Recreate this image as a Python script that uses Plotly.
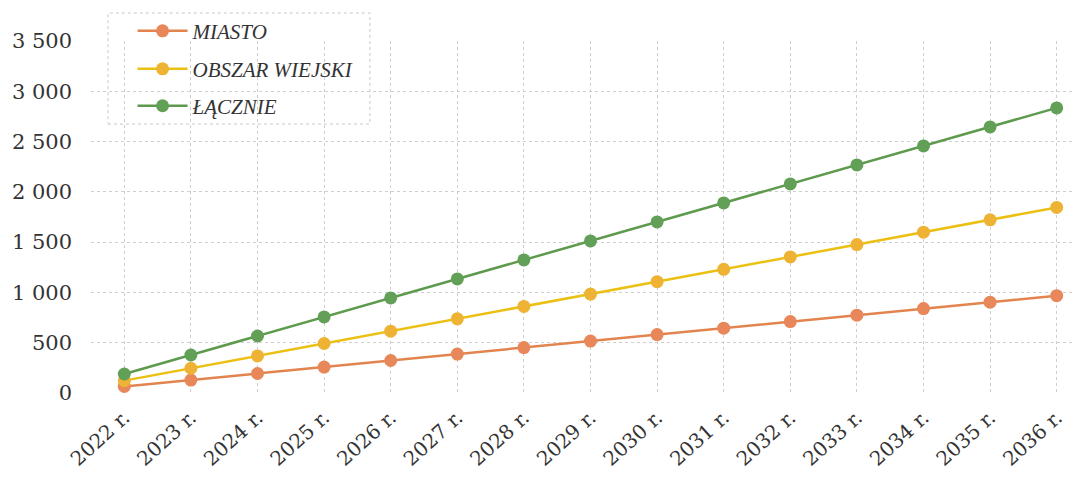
import plotly.graph_objects as go

years = ["2022 r.", "2023 r.", "2024 r.", "2025 r.", "2026 r.", "2027 r.", "2028 r.",
         "2029 r.", "2030 r.", "2031 r.", "2032 r.", "2033 r.", "2034 r.", "2035 r.", "2036 r."]
miasto = [65, 129, 194, 258, 323, 387, 452, 516, 581, 645, 710, 774, 839, 903, 968]
wies = [123, 246, 369, 492, 615, 738, 861, 984, 1107, 1230, 1353, 1476, 1599, 1722, 1845]
lacznie = [189, 378, 567, 756, 945, 1134, 1323, 1512, 1701, 1890, 2079, 2268, 2457, 2646, 2835]
ytick_vals = [0, 500, 1000, 1500, 2000, 2500, 3000, 3500]
ytick_text = ["0", "500", "1 000", "1 500", "2 000", "2 500", "3 000", "3 500"]

series = [
    ("MIASTO", miasto, "#E3844F", "#E8875A", "legend", 1.028),
    ("OBSZAR WIEJSKI", wies, "#EBC012", "#EEB334", "legend2", 0.920),
    ("ŁĄCZNIE", lacznie, "#5E9A4E", "#62A057", "legend3", 0.815),
]

serif = "Liberation Serif, DejaVu Serif, serif"
tickserif = "DejaVu Serif, serif"
fig = go.Figure()
legends = {}
for name, vals, lc, mc, lg, ly in series:
    fig.add_trace(go.Scatter(
        x=years, y=vals, name=name, mode="lines+markers",
        line=dict(color=lc, width=2.5),
        marker=dict(color=mc, size=13, line=dict(width=0)),
        legend=lg,
    ))
    legends[lg] = dict(
        x=0.042, y=ly, xanchor="left", yanchor="middle",
        bgcolor="rgba(0,0,0,0)", borderwidth=0,
        font=dict(family=serif, size=21, color="#333333", style="italic"),
        itemwidth=50,
    )

fig.update_layout(
    width=1072, height=469,
    margin=dict(l=83, r=0, t=33, b=84),
    paper_bgcolor="white", plot_bgcolor="white",
    font=dict(family=serif, color="#333333"),
    showlegend=True,
    **legends,
    xaxis=dict(
        type="category", range=[-0.5, 14.35], automargin=False,
        showgrid=True, gridcolor="#cfcfcf", griddash="dot", gridwidth=1,
        tickangle=-42, tickfont=dict(family=tickserif, size=20, color="#333333"),
        showline=False, zeroline=False, ticks="", ticklabelstandoff=8,
    ),
    yaxis=dict(
        range=[0, 3500], tickvals=ytick_vals, ticktext=ytick_text, automargin=False,
        showgrid=True, gridcolor="#cfcfcf", griddash="dot", gridwidth=1,
        tickfont=dict(family=tickserif, size=21, color="#333333"),
        zeroline=False, showline=False, ticks="", ticklabelstandoff=18,
    ),
    shapes=[dict(
        type="rect", xref="paper", yref="paper",
        x0=0.0172, x1=0.282, y0=0.764, y1=1.0795,
        line=dict(color="#c8c8c8", width=1, dash="dot"),
        fillcolor="white", layer="below",
    )],
)

fig.write_html("out.html")
